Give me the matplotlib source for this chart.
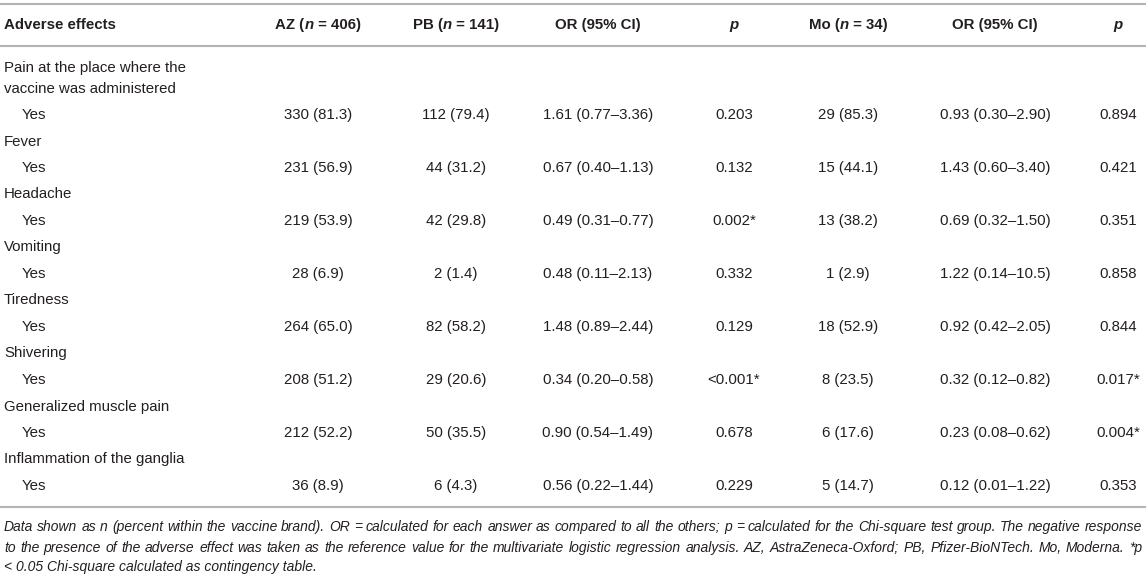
import matplotlib
matplotlib.use("Agg")
import matplotlib.pyplot as plt

# Данные таблицы
effects = ["Pain at the place where the\nvaccine was administered", "Fever", "Headache",
           "Vomiting", "Tiredness", "Shivering", "Generalized muscle pain",
           "Inflammation of the ganglia"]
az = ["330 (81.3)", "231 (56.9)", "219 (53.9)", "28 (6.9)", "264 (65.0)",
      "208 (51.2)", "212 (52.2)", "36 (8.9)"]
pb = ["112 (79.4)", "44 (31.2)", "42 (29.8)", "2 (1.4)", "82 (58.2)",
      "29 (20.6)", "50 (35.5)", "6 (4.3)"]
or_pb = ["1.61 (0.77–3.36)", "0.67 (0.40–1.13)", "0.49 (0.31–0.77)", "0.48 (0.11–2.13)",
         "1.48 (0.89–2.44)", "0.34 (0.20–0.58)", "0.90 (0.54–1.49)", "0.56 (0.22–1.44)"]
p_pb = ["0.203", "0.132", "0.002*", "0.332", "0.129", "<0.001*", "0.678", "0.229"]
mo = ["29 (85.3)", "15 (44.1)", "13 (38.2)", "1 (2.9)", "18 (52.9)",
      "8 (23.5)", "6 (17.6)", "5 (14.7)"]
or_mo = ["0.93 (0.30–2.90)", "1.43 (0.60–3.40)", "0.69 (0.32–1.50)", "1.22 (0.14–10.5)",
         "0.92 (0.42–2.05)", "0.32 (0.12–0.82)", "0.23 (0.08–0.62)", "0.12 (0.01–1.22)"]
p_mo = ["0.894", "0.421", "0.351", "0.858", "0.844", "0.017*", "0.004*", "0.353"]

# Заголовки: куски текста (текст, курсив)
headers = [
    [("AZ (", False), ("n", True), (" = 406)", False)],
    [("PB (", False), ("n", True), (" = 141)", False)],
    [("OR (95% CI)", False)],
    [("p", True)],
    [("Mo (", False), ("n", True), (" = 34)", False)],
    [("OR (95% CI)", False)],
    [("p", True)],
]

footnote = [
    "Data shown as n (percent within the vaccine brand). OR = calculated for each answer as compared "
    "to all the others; p = calculated for the Chi-square test group. The negative response",
    "to the presence of the adverse effect was taken as the reference value for the multivariate "
    "logistic regression analysis. AZ, AstraZeneca-Oxford; PB, Pfizer-BioNTech. Mo, Moderna. *p",
    "< 0.05 Chi-square calculated as contingency table.",
]

plt.rcParams['font.family'] = ['Liberation Sans', 'DejaVu Sans']
TXT = '#231f20'
LINE = '#b4b4b4'

fig = plt.figure(figsize=(11.46, 5.75), dpi=100)
ax = fig.add_axes([0, 0, 1, 1])
ax.set_xlim(0, 1146)
ax.set_ylim(575, 0)
ax.axis('off')
renderer = fig.canvas.get_renderer()

col_x = [318, 456, 598, 734, 848, 995, 1118]
fs = 10.8


def width_of(t):
    return t.get_window_extent(renderer=renderer).width


def draw_pieces(pieces, xc, y):
    # составной заголовок, центрированный по xc
    objs = []
    for s, it in pieces:
        t = ax.text(0, y, s, fontsize=fs, fontweight='bold',
                    fontstyle='italic' if it else 'normal',
                    color=TXT, va='center', ha='left')
        objs.append(t)
    widths = [width_of(t) for t in objs]
    x = xc - sum(widths) / 2
    for t, w in zip(objs, widths):
        t.set_x(x)
        x += w


# Линии таблицы
for yy in (4, 46, 507):
    ax.axhline(yy, color=LINE, lw=1.5)

# Заголовок
ax.text(4, 25, "Adverse effects", fontsize=fs, fontweight='bold', color=TXT, va='center')
for pieces, xc in zip(headers, col_x):
    draw_pieces(pieces, xc, 25)

# Строки
step = 26.5
for i, name in enumerate(effects):
    y_yes = 115 + step * 2 * i
    if i == 0:
        ax.text(4, 68, name.split("\n")[0], fontsize=fs, color=TXT, va='center')
        ax.text(4, 89, name.split("\n")[1], fontsize=fs, color=TXT, va='center')
    else:
        ax.text(4, y_yes - step, name, fontsize=fs, color=TXT, va='center')
    ax.text(22, y_yes, "Yes", fontsize=fs, color=TXT, va='center')
    vals = [az[i], pb[i], or_pb[i], p_pb[i], mo[i], or_mo[i], p_mo[i]]
    for v, xc in zip(vals, col_x):
        ax.text(xc, y_yes, v, fontsize=fs, color=TXT, va='center', ha='center')

# Примечание: подбираем размер шрифта под ширину строки, затем выравниваем по ширине
foot_y = [527, 548, 567]
x0, x1 = 4, 1142
probe = ax.text(0, 0, footnote[0], fontsize=9, fontstyle='italic')
fs_foot = 9 * (x1 - x0) / width_of(probe) * 0.995
probe.remove()

for k, line in enumerate(footnote):
    if k < len(footnote) - 1:
        words = line.split(" ")
        objs = [ax.text(0, foot_y[k], w, fontsize=fs_foot, fontstyle='italic', color=TXT,
                        va='center', ha='left') for w in words]
        ws = [width_of(t) for t in objs]
        gap = (x1 - x0 - sum(ws)) / (len(words) - 1)
        x = x0
        for t, w in zip(objs, ws):
            t.set_x(x)
            x += w + gap
    else:
        ax.text(x0, foot_y[k], line, fontsize=fs_foot, fontstyle='italic', color=TXT,
                va='center')

fig.savefig("out.png", dpi=100)
